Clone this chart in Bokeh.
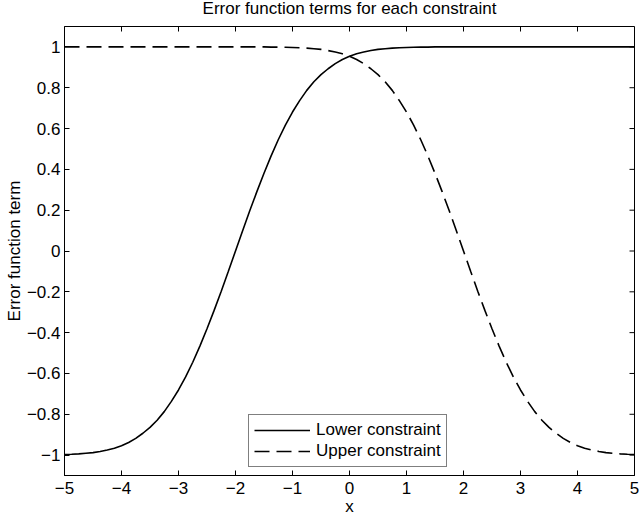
from bokeh.plotting import figure
from bokeh.models import Range1d, Legend, LegendItem, FixedTicker, Title, CustomJSTickFormatter
from bokeh.embed import file_html
from bokeh.resources import INLINE

x_vals = [-5.0, -4.875, -4.75, -4.625, -4.5, -4.375, -4.25, -4.125, -4.0, -3.875, -3.75, -3.625,
          -3.5, -3.375, -3.25, -3.125, -3.0, -2.875, -2.75, -2.625, -2.5, -2.375, -2.25, -2.125,
          -2.0, -1.875, -1.75, -1.625, -1.5, -1.375, -1.25, -1.125, -1.0, -0.875, -0.75, -0.625,
          -0.5, -0.375, -0.25, -0.125, 0.0, 0.125, 0.25, 0.375, 0.5, 0.625, 0.75, 0.875,
          1.0, 1.125, 1.25, 1.375, 1.5, 1.625, 1.75, 1.875, 2.0, 2.125, 2.25, 2.375,
          2.5, 2.625, 2.75, 2.875, 3.0, 3.125, 3.25, 3.375, 3.5, 3.625, 3.75, 3.875,
          4.0, 4.125, 4.25, 4.375, 4.5, 4.625, 4.75, 4.875, 5.0]
lower_constraint = [-0.997, -0.996, -0.994, -0.991, -0.988, -0.982, -0.975, -0.966,
                    -0.954, -0.938, -0.918, -0.893, -0.864, -0.829, -0.787, -0.737,
                    -0.681, -0.617, -0.545, -0.466, -0.381, -0.291, -0.197, -0.099,
                    0.0, 0.099, 0.197, 0.291, 0.381, 0.466, 0.545, 0.617,
                    0.681, 0.737, 0.787, 0.829, 0.864, 0.893, 0.918, 0.938,
                    0.954, 0.966, 0.975, 0.982, 0.988, 0.991, 0.994, 0.996,
                    0.997, 0.998, 0.999, 0.999, 1.0, 1.0, 1.0, 1.0,
                    1.0, 1.0, 1.0, 1.0, 1.0, 1.0, 1.0, 1.0,
                    1.0, 1.0, 1.0, 1.0, 1.0, 1.0, 1.0, 1.0,
                    1.0, 1.0, 1.0, 1.0, 1.0, 1.0, 1.0, 1.0, 1.0]
upper_constraint = [1.0, 1.0, 1.0, 1.0, 1.0, 1.0, 1.0, 1.0,
                    1.0, 1.0, 1.0, 1.0, 1.0, 1.0, 1.0, 1.0,
                    1.0, 1.0, 1.0, 1.0, 1.0, 1.0, 1.0, 1.0,
                    1.0, 1.0, 1.0, 1.0, 1.0, 0.999, 0.999, 0.998,
                    0.997, 0.996, 0.994, 0.991, 0.988, 0.982, 0.975, 0.966,
                    0.954, 0.938, 0.918, 0.893, 0.864, 0.829, 0.787, 0.737,
                    0.681, 0.617, 0.545, 0.466, 0.381, 0.291, 0.197, 0.099,
                    0.0, -0.099, -0.197, -0.291, -0.381, -0.466, -0.545, -0.617,
                    -0.681, -0.737, -0.787, -0.829, -0.864, -0.893, -0.918, -0.938,
                    -0.954, -0.966, -0.975, -0.982, -0.988, -0.991, -0.994, -0.996, -0.997]
x_ticks = [-5, -4, -3, -2, -1, 0, 1, 2, 3, 4, 5]
y_ticks = [-1, -0.8, -0.6, -0.4, -0.2, 0, 0.2, 0.4, 0.6, 0.8, 1]
title_text = "Error function terms for each constraint"

FONT = "Liberation Sans"
FS = "17px"
X0, X1 = -5, 5
Y0, Y1 = -1.1, 1.1
SHIFT = 12  # figure is lifted by this many px so the title can sit near the page top
W, H = 640, 518 + SHIFT
BL, BR, BT, BB = 64, 6, 26 + SHIFT, 43
TICK = 5  # px

p = figure(width=W, height=H, output_backend="svg", toolbar_location=None,
           x_range=Range1d(X0, X1), y_range=Range1d(Y0, Y1),
           min_border_left=BL, min_border_right=BR, min_border_top=BT, min_border_bottom=BB)
p.styles = {"position": "absolute", "left": "0px", "top": f"-{SHIFT}px"}
p.title = Title(text=title_text, align="center",
                text_font=FONT, text_font_size=FS, text_font_style="normal",
                text_color="black", offset=0, standoff=17)
p.grid.visible = False
p.outline_line_color = "black"
p.outline_line_width = 1
p.background_fill_color = "white"
p.border_fill_color = "white"

l1 = p.line(x_vals, lower_constraint, line_color="black", line_width=1.6)
l2 = p.line(x_vals, upper_constraint, line_color="black", line_width=1.6, line_dash="15 7")

fw = W - BL - BR
fh = H - BT - BB

# inward ticks on the top and right edges (box on)
dy = TICK * (Y1 - Y0) / fh
dx = TICK * (X1 - X0) / fw
p.segment(x0=x_ticks, x1=x_ticks, y0=[Y1] * len(x_ticks), y1=[Y1 - dy] * len(x_ticks),
          line_color="black", line_width=1)
p.segment(x0=[X1] * len(y_ticks), x1=[X1 - dx] * len(y_ticks), y0=y_ticks, y1=y_ticks,
          line_color="black", line_width=1)

minus_fmt = CustomJSTickFormatter(code="return tick < 0 ? '\u2212' + String(-tick) : String(tick);")

for ax in [p.xaxis[0], p.yaxis[0]]:
    ax.major_tick_in = TICK
    ax.major_tick_out = 0
    ax.minor_tick_in = 0
    ax.minor_tick_out = 0
    ax.axis_line_color = "black"
    ax.formatter = minus_fmt
    ax.major_label_text_font = FONT
    ax.major_label_text_font_size = FS
    ax.major_label_text_color = "black"
    ax.axis_label_text_font = FONT
    ax.axis_label_text_font_size = FS
    ax.axis_label_text_font_style = "normal"
    ax.axis_label_text_color = "black"

p.xaxis[0].ticker = FixedTicker(ticks=x_ticks)
p.yaxis[0].ticker = FixedTicker(ticks=y_ticks)
p.xaxis[0].axis_label = "x"
p.yaxis[0].axis_label = "Error function term"
p.xaxis[0].major_label_standoff = 6
p.xaxis[0].axis_label_standoff = 0
p.yaxis[0].major_label_standoff = 4
p.yaxis[0].axis_label_standoff = 0

legend = Legend(items=[LegendItem(label="Lower constraint", renderers=[l1]),
                       LegendItem(label="Upper constraint", renderers=[l2])],
                location=(184, 8), label_text_font=FONT, label_text_font_size=FS,
                label_text_color="black", border_line_color="black", border_line_width=1,
                glyph_width=56, glyph_height=20, label_standoff=6, padding=5, spacing=1,
                margin=0, label_height=20)
p.add_layout(legend, "center")

open("out.html", "w").write(file_html(p, INLINE))
